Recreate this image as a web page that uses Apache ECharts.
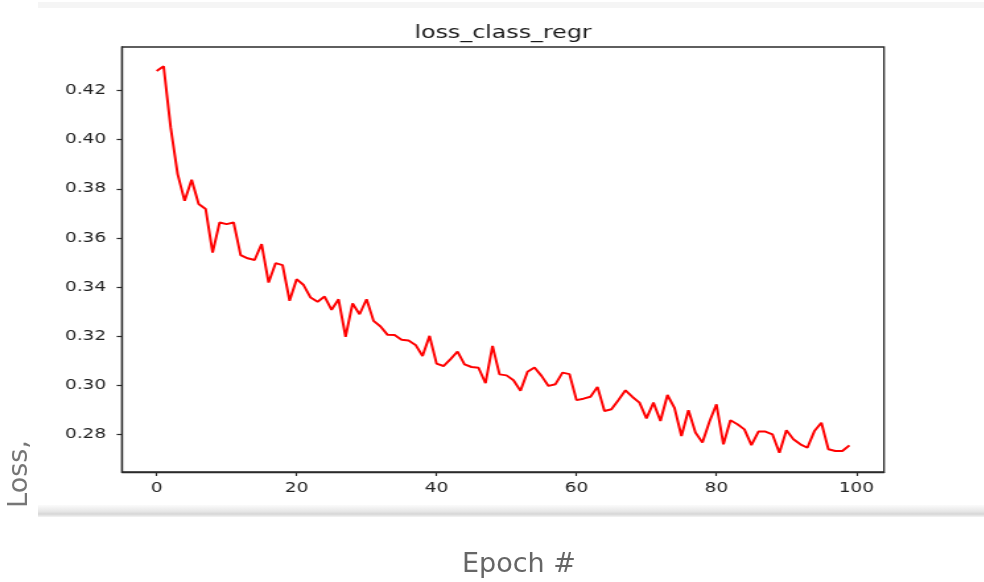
<!DOCTYPE html>
<html>
<head>
<meta charset="utf-8">
<script src="https://cdn.jsdelivr.net/npm/echarts@6/dist/echarts.min.js"></script>
<style>
  html, body { margin: 0; padding: 0; background: #ffffff; }
  #page { position: absolute; left: 0; top: 0; width: 984px; height: 582px; }
  #plot { position: absolute; left: 0; top: 0; height: 582px; transform-origin: 0 0; }
</style>
</head>
<body>
<div id="page"></div>
<div id="plot"></div>
<script>
// Per-epoch loss for the class regression head
const lossClassRegr = [
  0.4280, 0.4299, 0.4050, 0.3860, 0.3751, 0.3837, 0.3738, 0.3718, 0.3540, 0.3663,
  0.3656, 0.3663, 0.3530, 0.3517, 0.3510, 0.3575, 0.3418, 0.3497, 0.3489, 0.3344,
  0.3432, 0.3408, 0.3357, 0.3340, 0.3361, 0.3307, 0.3350, 0.3197, 0.3333, 0.3289,
  0.3350, 0.3262, 0.3239, 0.3205, 0.3204, 0.3185, 0.3182, 0.3164, 0.3119, 0.3201,
  0.3088, 0.3078, 0.3106, 0.3137, 0.3085, 0.3074, 0.3071, 0.3008, 0.3160, 0.3044,
  0.3040, 0.3020, 0.2977, 0.3055, 0.3072, 0.3038, 0.2997, 0.3004, 0.3051, 0.3045,
  0.2939, 0.2945, 0.2953, 0.2993, 0.2895, 0.2902, 0.2940, 0.2979, 0.2952, 0.2929,
  0.2865, 0.2929, 0.2854, 0.2960, 0.2908, 0.2793, 0.2898, 0.2807, 0.2766, 0.2851,
  0.2922, 0.2759, 0.2857, 0.2841, 0.2820, 0.2756, 0.2811, 0.2811, 0.2800, 0.2725,
  0.2816, 0.2780, 0.2759, 0.2745, 0.2813, 0.2847, 0.2739, 0.2732, 0.2732, 0.2755
];
const xTicks = [0, 20, 40, 60, 80, 100];
const yTicks = [0.28, 0.30, 0.32, 0.34, 0.36, 0.38, 0.40, 0.42];
const chartTitle = 'loss_class_regr';
const xName = 'Epoch #';
const yName = 'Loss,';

// The figure image is stretched horizontally inside the page
const SX = 1.32;
const PAGE_W = 984;
const plotDiv = document.getElementById('plot');
const innerW = PAGE_W / SX;
plotDiv.style.width = innerW + 'px';
plotDiv.style.transform = 'scaleX(' + SX + ')';

const FONT = 'DejaVu Sans';

// matplotlib-style 5% padding around the data
const pts = lossClassRegr.map((v, i) => [i, v]);
const yMinD = Math.min(...lossClassRegr), yMaxD = Math.max(...lossClassRegr);
const yPad = (yMaxD - yMinD) * 0.05;
const xLast = lossClassRegr.length - 1;
const xPad = xLast * 0.05;

// Page frame: captions and separators around the figure
const page = echarts.init(document.getElementById('page'), null, { renderer: 'canvas' });
page.setOption({
  backgroundColor: '#ffffff',
  animation: false,
  graphic: [
    { type: 'rect', shape: { x: 38, y: 2, width: 946, height: 6 }, style: { fill: '#f5f5f5' }, silent: true },
    {
      type: 'rect', shape: { x: 38, y: 505, width: 946, height: 12 },
      style: {
        fill: new echarts.graphic.LinearGradient(0, 0, 0, 1, [
          { offset: 0, color: '#fbfbfb' },
          { offset: 0.55, color: '#e6e6e6' },
          { offset: 0.75, color: '#d6d6d6' },
          { offset: 1, color: '#f4f4f4' }
        ])
      },
      silent: true
    },
    {
      type: 'text', x: 20, y: 474, rotation: Math.PI / 2,
      style: { text: yName, font: '27px "DejaVu Sans"', fill: '#767676', align: 'center', verticalAlign: 'middle' }
    },
    {
      type: 'text', x: 519, y: 565,
      style: { text: xName, font: '27px "DejaVu Sans"', fill: '#666666', align: 'center', verticalAlign: 'middle' }
    }
  ]
});

// The loss figure itself
const gLeft = 122 / SX, gWidth = 762 / SX;
const chart = echarts.init(plotDiv, null, { renderer: 'canvas' });
chart.setOption({
  backgroundColor: 'transparent',
  animation: false,
  title: {
    text: chartTitle,
    left: gLeft + gWidth / 2 - 5,
    textAlign: 'center',
    top: 19,
    textStyle: { fontFamily: FONT, fontSize: 18, fontWeight: 'normal', color: '#1a1a1a' }
  },
  grid: {
    left: gLeft, top: 47, width: gWidth, height: 425,
    show: true, borderColor: '#2b2b2b', borderWidth: 1.3, backgroundColor: 'transparent',
    outerBoundsMode: 'none'
  },
  xAxis: {
    type: 'value',
    min: -xPad, max: xLast + xPad,
    splitLine: { show: false },
    axisLine: { show: true, onZero: false, lineStyle: { color: '#2b2b2b', width: 1.3 } },
    axisTick: { show: true, length: 4, lineStyle: { color: '#2b2b2b', width: 1.2 }, customValues: xTicks },
    axisLabel: {
      show: true, margin: 9, customValues: xTicks,
      fontFamily: FONT, fontSize: 14, color: '#222222',
      formatter: v => String(v)
    }
  },
  yAxis: {
    type: 'value',
    min: yMinD - yPad, max: yMaxD + yPad,
    splitLine: { show: false },
    axisLine: { show: true, onZero: false, lineStyle: { color: '#2b2b2b', width: 1.3 } },
    axisTick: { show: true, length: 4, lineStyle: { color: '#2b2b2b', width: 1.2 }, customValues: yTicks },
    axisLabel: {
      show: true, margin: 12, customValues: yTicks,
      fontFamily: FONT, fontSize: 14, color: '#222222',
      formatter: v => v.toFixed(2)
    }
  },
  series: [{
    type: 'line',
    data: pts,
    showSymbol: false,
    symbol: 'none',
    lineStyle: { color: '#ff0000', width: 2 },
    z: 3
  }]
});
</script>
</body>
</html>
